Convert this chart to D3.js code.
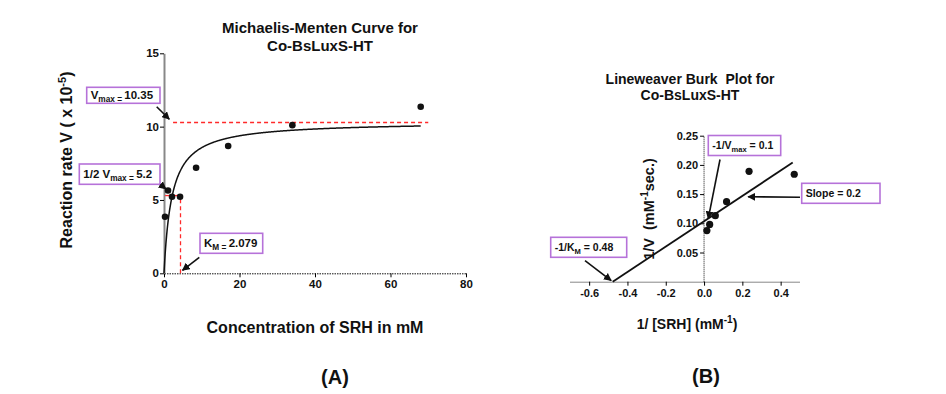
<!DOCTYPE html>
<html><head><meta charset="utf-8">
<script src="https://cdn.jsdelivr.net/npm/d3@7"></script>
<style>
body{margin:0;background:#fff;}
text{font-family:"Liberation Sans",Arial,Helvetica,sans-serif;font-weight:bold;fill:#111;white-space:pre;}
</style></head>
<body><svg id="c" width="946" height="394"></svg>
<script>
// ---- data (panel A: Michaelis-Menten) ----
const mmConc = [0.27, 1.06, 2.125, 4.25, 8.5, 17, 34, 68];
const mmRate = [3.86, 5.65, 5.22, 5.22, 7.2, 8.68, 10.1, 11.36];
const vmax = 10.35, km = 2.079;
const mmXTicks = [0, 20, 40, 60, 80];
const mmYTicks = [0, 5, 10, 15];
// ---- data (panel B: Lineweaver-Burk) ----
const lbInvS = [0.0147, 0.0294, 0.0588, 0.1176, 0.235, 0.471];
const lbInvV = [0.0875, 0.098, 0.113, 0.137, 0.189, 0.184];
const lbFit = {intercept: 0.1035, slope: 0.217, x0: -0.477, x1: 0.463};
const lbXTicks = [-0.6, -0.4, -0.2, 0.0, 0.2, 0.4];
const lbYTicks = [0.05, 0.10, 0.15, 0.20, 0.25];

const svg = d3.select("#c");
const purple = "#b672d9", red = "#ff2a2a";

const defs = svg.append("defs");
defs.append("marker").attr("id","ah").attr("viewBox","0 0 10 10")
  .attr("refX",9).attr("refY",5).attr("markerWidth",5).attr("markerHeight",5)
  .attr("orient","auto").append("path").attr("d","M0,0L10,5L0,10z").attr("fill","#111");

function arrow(x1,y1,x2,y2){
  svg.append("line").attr("x1",x1).attr("y1",y1).attr("x2",x2).attr("y2",y2)
    .attr("stroke","#111").attr("stroke-width",1.6).attr("marker-end","url(#ah)");
}
function box(x,y,w,h,parts,fs){
  svg.append("rect").attr("x",x).attr("y",y).attr("width",w).attr("height",h)
    .attr("fill","#fff").attr("stroke",purple).attr("stroke-width",1.6);
  const t = svg.append("text").attr("x",x+4).attr("y",y+h/2+fs*0.36).style("font-size",fs+"px");
  parts.forEach(p=>{
    if(p[1]==="sub") t.append("tspan").text(p[0]).attr("dy",3).style("font-size",(fs*0.72)+"px");
    else t.append("tspan").text(p[0]).attr("dy",p[1]==="back"?-3:0);
  });
}
const hy = f => d => f(d).replace("\u2212","-");

// ================= Panel A =================
const xA = d3.scaleLinear().domain([0,80]).range([164,466]);
const yA = d3.scaleLinear().domain([0,15]).range([273.3,53.3]);

svg.append("text").attr("x",320).attr("y",33).attr("text-anchor","middle").style("font-size","15px").text("Michaelis-Menten Curve for");
svg.append("text").attr("x",320).attr("y",51).attr("text-anchor","middle").style("font-size","15px").text("Co-BsLuxS-HT");

const axA = svg.append("g").attr("transform",`translate(0,${yA(0)})`)
  .call(d3.axisBottom(xA).tickValues(mmXTicks).tickSize(4).tickSizeOuter(0).tickPadding(3));
axA.select(".domain").attr("stroke","#111").attr("stroke-dasharray","1.5,1");
axA.selectAll("text").style("font-size","11.5px");
const ayA = svg.append("g").attr("transform",`translate(${xA(0)},0)`)
  .call(d3.axisLeft(yA).tickValues(mmYTicks).tickSize(4).tickSizeOuter(0).tickPadding(1));
ayA.select(".domain").attr("stroke","#888").attr("stroke-width",2);
ayA.selectAll("text").style("font-size","11.5px");

// red guides
const rY = Math.round(yA(vmax)) + 0.5;
svg.append("line").attr("x1",xA(2.4)).attr("x2",xA(70)).attr("y1",rY).attr("y2",rY)
  .attr("stroke",red).attr("stroke-width",1.3).attr("stroke-dasharray","4,3");
const rX = Math.round(xA(4.2)) + 0.5;
svg.append("line").attr("x1",rX).attr("x2",rX).attr("y1",yA(0)).attr("y2",yA(5.3))
  .attr("stroke",red).attr("stroke-width",1.3).attr("stroke-dasharray","4,3");
svg.append("line").attr("x1",xA(0.3)).attr("x2",rX).attr("y1",yA(5.3)).attr("y2",yA(5.3))
  .attr("stroke",red).attr("stroke-width",1.3);

// fitted curve
const sGrid = d3.range(0, 68.01, 0.1);
svg.append("path").datum(sGrid)
  .attr("d", d3.line().x(s=>xA(s)).y(s=>yA(vmax*s/(km+s))).curve(d3.curveBasis))
  .attr("fill","none").attr("stroke","#111").attr("stroke-width",1.5);

svg.append("g").selectAll("circle").data(mmConc).join("circle")
  .attr("cx",d=>xA(d)).attr("cy",(d,i)=>yA(mmRate[i])).attr("r",3.3).attr("fill","#111");

// annotations A
box(86.7,87.3,73.3,16,[["V"],["max = ","sub"],["10.35","back"]],11.5);
arrow(156.7,106.7,xA(1.4),yA(10.5));
box(79.3,164,80.7,20.3,[["1/2 V"],["max = ","sub"],["5.2","back"]],11.5);
arrow(160.5,184.5,xA(0.5),yA(5.75));
box(200,233.3,62.7,20,[["K"],["M = ","sub"],["2.079","back"]],11.5);
arrow(199.3,257.3,xA(4.9),yA(0.2));

svg.append("text").attr("transform","translate(71.5,160) rotate(-90)").attr("text-anchor","middle")
  .style("font-size","16px")
  .call(t=>{t.append("tspan").text("Reaction rate V ( x 10");
            t.append("tspan").text("-5").attr("dy",-6).style("font-size","11px");
            t.append("tspan").text(")").attr("dy",6);});
svg.append("text").attr("x",315).attr("y",333).attr("text-anchor","middle").style("font-size","16px")
  .text("Concentration of SRH in mM");
svg.append("text").attr("x",335).attr("y",384).attr("text-anchor","middle").style("font-size","20px").text("(A)");

// ================= Panel B =================
const xB = d3.scaleLinear().domain([-0.7,0.5]).range([570,799.8]);
const yB = d3.scaleLinear().domain([0,0.25]).range([281.7,135.7]);

svg.append("text").attr("x",690).attr("y",84).attr("text-anchor","middle").style("font-size","14px").text("Lineweaver Burk  Plot for");
svg.append("text").attr("x",690).attr("y",99.5).attr("text-anchor","middle").style("font-size","14px").text("Co-BsLuxS-HT");

const axB = svg.append("g").attr("transform",`translate(0,${yB(0)})`)
  .call(d3.axisBottom(xB).tickValues(lbXTicks).tickFormat(hy(d3.format(".1f"))).tickSize(4).tickSizeOuter(0).tickPadding(4));
axB.select(".domain").attr("stroke","#111").attr("stroke-dasharray","1,1");
axB.selectAll("text").style("font-size","11px");
const ayB = svg.append("g").attr("transform",`translate(${xB(0)},0)`)
  .call(d3.axisLeft(yB).tickValues(lbYTicks).tickFormat(d3.format(".2f")).tickSize(4).tickSizeOuter(0).tickPadding(2));
ayB.select(".domain").attr("stroke","#111").attr("stroke-dasharray","1,1")
  .attr("d",`M0,${yB(0)}V${yB(0.25)}`);
ayB.selectAll("text").style("font-size","11px");

svg.append("line").attr("x1",xB(lbFit.x0)).attr("y1",yB(lbFit.intercept+lbFit.slope*lbFit.x0))
  .attr("x2",xB(lbFit.x1)).attr("y2",yB(lbFit.intercept+lbFit.slope*lbFit.x1))
  .attr("stroke","#111").attr("stroke-width",1.8);

svg.append("g").selectAll("circle").data(lbInvS).join("circle")
  .attr("cx",d=>xB(d)).attr("cy",(d,i)=>yB(lbInvV[i])).attr("r",3.6).attr("fill","#111");

box(708.3,135.5,72.4,20,[["-1/V"],["max","sub"],[" = 0.1","back"]],10.5);
arrow(720,159.5,xB(0.022),yB(0.108));
box(801.7,183.3,78.3,20,[["Slope = 0.2"]],10.5);
arrow(800,197.3,xB(0.23),yB(0.1455));
box(550.7,237.3,76,20,[["-1/K"],["M","sub"],[" = 0.48","back"]],10.5);
arrow(585,260.7,xB(-0.485),yB(0.002));

svg.append("text").attr("transform","translate(654,209) rotate(-90)").attr("text-anchor","middle")
  .style("font-size","14.5px")
  .call(t=>{t.append("tspan").text("1/V  (mM");
            t.append("tspan").text("-1").attr("dy",-6).style("font-size","10px");
            t.append("tspan").text("sec.)").attr("dy",6);});
svg.append("text").attr("x",687).attr("y",329).attr("text-anchor","middle").style("font-size","14px")
  .call(t=>{t.append("tspan").text("1/ [SRH] (mM");
            t.append("tspan").text("-1").attr("dy",-6).style("font-size","10px");
            t.append("tspan").text(")").attr("dy",6);});
svg.append("text").attr("x",706).attr("y",383).attr("text-anchor","middle").style("font-size","20px").text("(B)");
</script></body></html>
